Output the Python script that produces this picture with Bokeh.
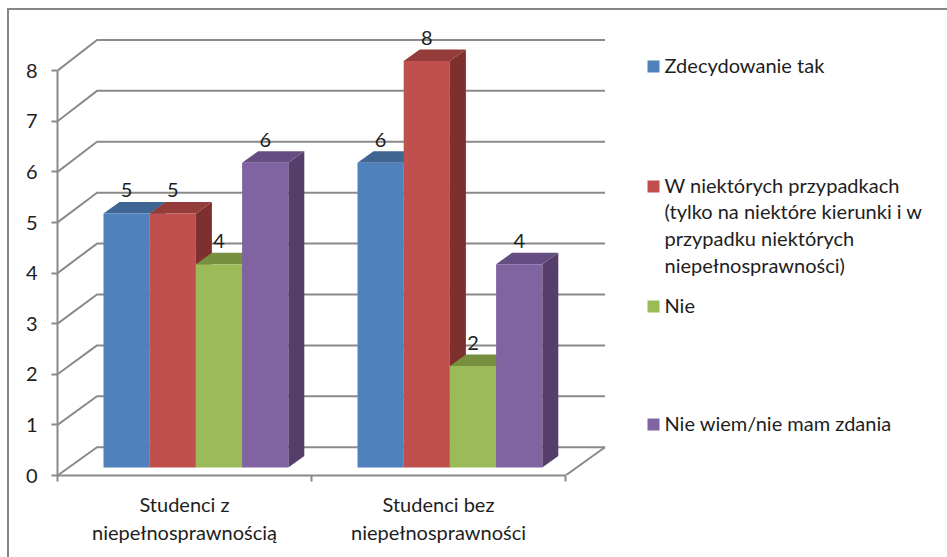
from bokeh.embed import file_html
from bokeh.resources import INLINE
from bokeh.plotting import figure
from bokeh.models import BoxAnnotation, FixedTicker, InlineStyleSheet, Label, Range1d
from bokeh.core.properties import value

categories = ["Studenci z\nniepełnosprawnością", "Studenci bez\nniepełnosprawności"]
series_names = ["Zdecydowanie tak", "W niektórych przypadkach", "Nie", "Nie wiem/nie mam zdania"]
zdecydowanie_tak = [5, 6]
w_niektorych = [5, 8]
nie = [4, 2]
nie_wiem = [6, 4]
y_ticks = [0, 1, 2, 3, 4, 5, 6, 7, 8]

FONT = "Lato"
FONT_SIZE = "20px"
GREY = "#8a8a8a"
INK = "#1e1e1e"
front_colors = ["#4F81BD", "#C0504D", "#9BBB59", "#8064A2"]
top_colors = ["#3F6592", "#933C3A", "#76903F", "#644D81"]
side_colors = ["#385A84", "#7D302E", "#6A8239", "#553F6A"]
all_series = [zdecydowanie_tak, w_niektorych, nie, nie_wiem]

# Pixel scale of the plotting frame
PX_X, PX_Y = 254.0, 50.6
FRAME_LEFT, FRAME_BASE = 57, 475
WIDTH, HEIGHT = 947, 557

p = figure(width=WIDTH, height=HEIGHT, output_backend="svg", toolbar_location=None,
           x_range=Range1d(0, (WIDTH - FRAME_LEFT) / PX_X), y_range=Range1d(0, FRAME_BASE / PX_Y),
           min_border_left=FRAME_LEFT, min_border_right=0, min_border_top=0,
           min_border_bottom=HEIGHT - FRAME_BASE, x_axis_type="linear")
p.grid.visible = False
p.outline_line_color = None
p.background_fill_color = "white"
p.border_fill_color = "white"

# Chart border: only the left and top edges fall on the page
p.stylesheets = [InlineStyleSheet(css="""
:host::after {
  content: ""; position: absolute; left: 7px; top: 8px; right: 0; bottom: 0;
  border-left: 2.5px solid #868686; border-top: 2.5px solid #868686;
  pointer-events: none;
}
""")]

# Oblique projection: depth shift in data units
WALL_DX, WALL_DY, WALL_K = 39.5 / PX_X, 28.3 / PX_Y, 1.006
BAR_DY0, BAR_K = 8.0 / PX_Y, 1.004
DEPTH_DX, DEPTH_DY = 16.0 / PX_X, 11.5 / PX_Y
BAR_W, BAR_START = 46.2 / PX_X, 46.0 / PX_X


def wall_y(v):
    return v * WALL_K + WALL_DY


def bar_y(v):
    return v * BAR_K + BAR_DY0


# Side wall and back wall grid lines
n_cat = len(categories)
for t in y_ticks:
    p.line([0, WALL_DX, n_cat + WALL_DX], [t, wall_y(t), wall_y(t)],
           line_color=GREY, line_width=2)
p.line([n_cat, n_cat + WALL_DX], [0, wall_y(0)], line_color=GREY, line_width=2)

# Bars, drawn left to right so each one covers the side of its neighbour
for c in range(n_cat):
    for s, vals in enumerate(all_series):
        v = vals[c]
        x0 = c + BAR_START + s * BAR_W
        x1 = x0 + BAR_W
        y0, y1 = bar_y(0), bar_y(v)
        p.patch([x1, x1 + DEPTH_DX, x1 + DEPTH_DX, x1],
                [y0, y0 + DEPTH_DY, y1 + DEPTH_DY, y1], fill_color=side_colors[s], line_color=None)
        p.patch([x0, x0 + DEPTH_DX, x1 + DEPTH_DX, x1],
                [y1, y1 + DEPTH_DY, y1 + DEPTH_DY, y1], fill_color=top_colors[s], line_color=None)
        p.quad(left=x0, right=x1, bottom=y0, top=y1, fill_color=front_colors[s], line_color=None)
for c in range(n_cat):
    for s, vals in enumerate(all_series):
        v = vals[c]
        p.text([c + BAR_START + (s + 0.5) * BAR_W], [bar_y(v) + 23 / PX_Y], text=[str(v)],
               text_font=value(FONT), text_font_size=FONT_SIZE, text_color=INK,
               text_align="center", text_baseline="middle")

# Axes
xa = p.xaxis[0]
xa.ticker = FixedTicker(ticks=[0.5, 1.5], minor_ticks=[0, 1, 2])
xa.major_label_overrides = {0.5: categories[0], 1.5: categories[1]}
xa.bounds = (0, n_cat)
xa.major_tick_in = 0
xa.major_tick_out = 0
xa.minor_tick_in = 0
xa.minor_tick_out = 6
xa.minor_tick_line_color = GREY
xa.minor_tick_line_width = 2
xa.axis_line_color = GREY
xa.axis_line_width = 2
xa.major_label_standoff = 10
xa.major_label_text_font = FONT
xa.major_label_text_font_size = FONT_SIZE
xa.major_label_text_color = INK

ya = p.yaxis[0]
ya.ticker = FixedTicker(ticks=y_ticks, minor_ticks=[])
ya.bounds = (0, 8)
ya.major_tick_in = 0
ya.major_tick_out = 6
ya.major_tick_line_color = GREY
ya.major_tick_line_width = 2
ya.axis_line_color = GREY
ya.axis_line_width = 2
ya.major_label_standoff = 14
ya.major_label_text_font = FONT
ya.major_label_text_font_size = FONT_SIZE
ya.major_label_text_color = INK

# Legend, spaced unevenly to leave room for the wrapped entry
legend_rows = [
    (66, 0, ["Zdecydowanie tak"]),
    (186, 1, ["W niektórych przypadkach", "(tylko na niektóre kierunki i w",
              "przypadku niektórych", "niepełnosprawności)"]),
    (306, 2, ["Nie"]),
    (424, 3, ["Nie wiem/nie mam zdania"]),
]
for y, s, lines in legend_rows:
    p.add_layout(BoxAnnotation(left=647, right=659, top=y - 6, bottom=y + 6,
                               left_units="canvas", right_units="canvas",
                               top_units="canvas", bottom_units="canvas",
                               fill_color=front_colors[s], fill_alpha=1, line_color=None))
    for i, line in enumerate(lines):
        p.add_layout(Label(x=664, y=y - 2 + i * 26.7, x_units="canvas", y_units="canvas", text=line,
                           text_font=FONT, text_font_size=FONT_SIZE, text_color=INK,
                           text_baseline="middle"))

open("out.html", "w").write(file_html(p, INLINE))
